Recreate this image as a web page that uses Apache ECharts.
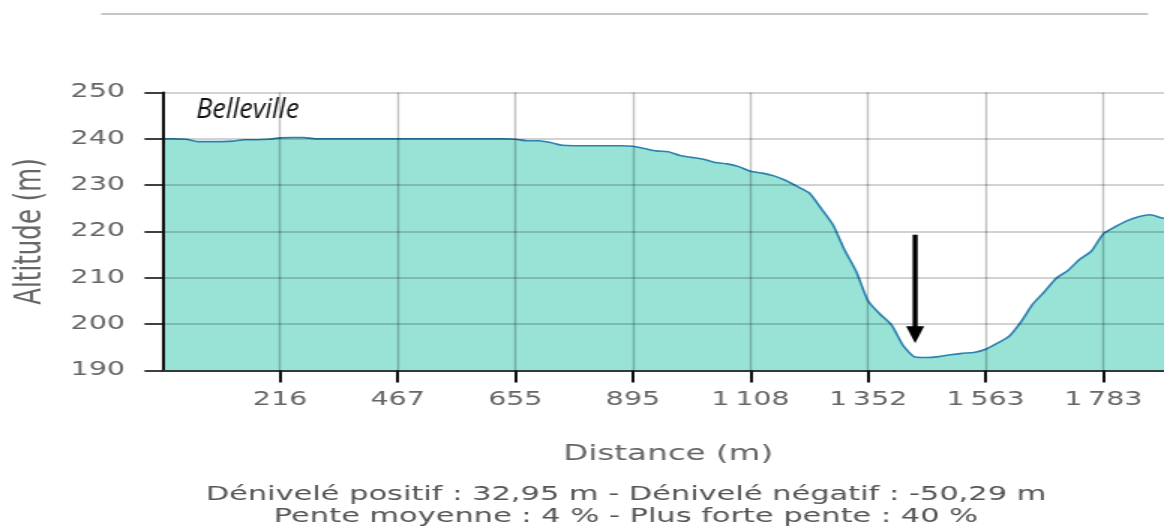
<!DOCTYPE html>
<html>
<head>
<meta charset="utf-8">
<script src="https://cdn.jsdelivr.net/npm/echarts@6/dist/echarts.min.js"></script>
<style>
html,body{margin:0;padding:0;background:#fff;overflow:hidden;width:1164px;height:526px}
#wrap{width:1164px;height:526px;overflow:hidden;position:relative}
#chart{width:800px;height:526px;transform:scaleX(1.5);transform-origin:0 0;position:absolute;left:0;top:0}
</style>
</head>
<body>
<div id="wrap"><div id="chart"></div></div>
<script>
// ---- data ----
const SX = 1.5; // horizontal stretch of the reference picture
const pointsPerTick = 10;
const tickLabels = ['0', '216', '467', '655', '895', '1\u2009108', '1\u2009352', '1\u2009563', '1\u2009783'];
const altitude = [
  240.0, 240.0, 239.9, 239.4, 239.4, 239.4, 239.5, 239.8, 239.8, 239.9,
  240.2, 240.3, 240.3, 240.0, 240.0, 240.0, 240.0, 240.0, 240.0, 240.0,
  240.0, 240.0, 240.0, 240.0, 240.0, 240.0, 240.0, 240.0, 240.0, 240.0,
  239.9, 239.6, 239.6, 239.2, 238.6, 238.5, 238.5, 238.5, 238.5, 238.5,
  238.4, 237.9, 237.4, 237.2, 236.4, 236.0, 235.6, 234.9, 234.6, 234.0,
  233.0, 232.6, 232.0, 231.0, 229.7, 228.3, 225.0, 221.5, 216.0, 211.3,
  205.0, 202.2, 199.8, 195.3, 192.9, 192.8, 193.0, 193.4, 193.7, 193.9,
  194.6, 195.9, 197.4, 200.5, 204.3, 207.0, 209.9, 211.6, 214.0, 215.8,
  219.5, 221.0, 222.3, 223.2, 223.6, 222.9, 222.4
];
const yMin = 190, yMax = 250, yInterval = 10;
const placeName = 'Belleville';
const footerLines = [
  'Dénivelé positif : 32,95 m - Dénivelé négatif : -50,29 m',
  'Pente moyenne : 4 % - Plus forte pente : 40 %'
];
const arrowTop = [63.95, 219.3];
const arrowTip = [64.3, 195.9];

// ---- build ----
const categories = altitude.map((_, i) =>
  (i % pointsPerTick === 0 && tickLabels[i / pointsPerTick] !== undefined) ? tickLabels[i / pointsPerTick] : '');

const chart = echarts.init(document.getElementById('chart'));
const gridLine = { show: true, interval: pointsPerTick - 1, lineStyle: { color: 'rgba(0,0,0,0.24)', width: 1.4 } };

chart.setOption({
  animation: false,
  backgroundColor: '#ffffff',
  grid: { left: 108.33, top: 92.5, right: 17.43, bottom: 155.5, containLabel: false, outerBoundsMode: 'none' },
  xAxis: {
    type: 'category',
    data: categories,
    boundaryGap: false,
    z: 3,
    name: 'Distance (m)',
    nameLocation: 'middle',
    nameGap: 73,
    nameTextStyle: { color: '#666', fontSize: 21.7, fontFamily: 'DejaVu Sans' },
    axisLine: { show: true, lineStyle: { color: '#2f3a39', width: 2 } },
    axisTick: { show: true, interval: pointsPerTick - 1, length: 12, lineStyle: { color: '#111', width: 2 } },
    axisLabel: { interval: pointsPerTick - 1, showMinLabel: false, margin: 20, color: '#666', fontSize: 19, fontFamily: 'DejaVu Sans' },
    splitLine: gridLine
  },
  yAxis: {
    type: 'value',
    min: yMin, max: yMax, interval: yInterval,
    z: 3,
    name: 'Altitude (m)',
    nameLocation: 'middle',
    nameGap: 75,
    nameRotate: 90,
    nameTextStyle: { color: '#666', fontSize: 24.5, fontFamily: 'DejaVu Sans' },
    axisLine: { show: true, lineStyle: { color: '#111', width: 2 } },
    axisTick: { show: true, length: 12, lineStyle: { color: '#111', width: 1.6 } },
    axisLabel: { margin: 25, color: '#666', fontSize: 19, fontFamily: 'DejaVu Sans' },
    splitLine: { show: true, lineStyle: { color: 'rgba(0,0,0,0.24)', width: 1.6 } }
  },
  series: [{
    type: 'line',
    data: altitude,
    symbol: 'none',
    smooth: 0.2,
    z: 2,
    lineStyle: { color: '#2a82b0', width: 1.6 },
    areaStyle: { color: '#98e2d6', opacity: 1 }
  }]
});

function drawAnnotations() {
  const a = chart.convertToPixel({ gridIndex: 0 }, arrowTop);
  const b = chart.convertToPixel({ gridIndex: 0 }, arrowTip);
  const ax = a[0] * SX, ay = a[1], bx = b[0] * SX, by = b[1];
  const headH = 17, headW = 9;
  const hx = ax + (bx - ax) * (by - headH - ay) / (by - ay);
  chart.setOption({
    graphic: [
      { type: 'line', z: 10, shape: { x1: 101 / SX, y1: 14, x2: 1148 / SX, y2: 14 }, style: { stroke: '#c6c6c6', lineWidth: 2 } },
      {
        type: 'group', x: 0, y: 0, scaleX: 1 / SX, z: 20,
        children: [
          { type: 'text', x: 196, y: 97, style: { text: placeName, font: 'italic 27px "Open Sans"', fill: '#111', align: 'left', verticalAlign: 'top' } },
          { type: 'line', shape: { x1: ax, y1: ay, x2: hx, y2: by - headH + 2 }, style: { stroke: '#000', lineWidth: 5 } },
          { type: 'polygon', shape: { points: [[hx - headW, by - headH], [hx + headW, by - headH], [bx, by]] }, style: { fill: '#000' } }
        ]
      },
      { type: 'text', z: 10, x: 626 / SX, y: 484, style: { text: footerLines.join('\n'), font: '20.3px "DejaVu Sans"', fill: '#555', align: 'center', verticalAlign: 'top', lineHeight: 22 } }
    ]
  });
}
drawAnnotations();
</script>
</body>
</html>
